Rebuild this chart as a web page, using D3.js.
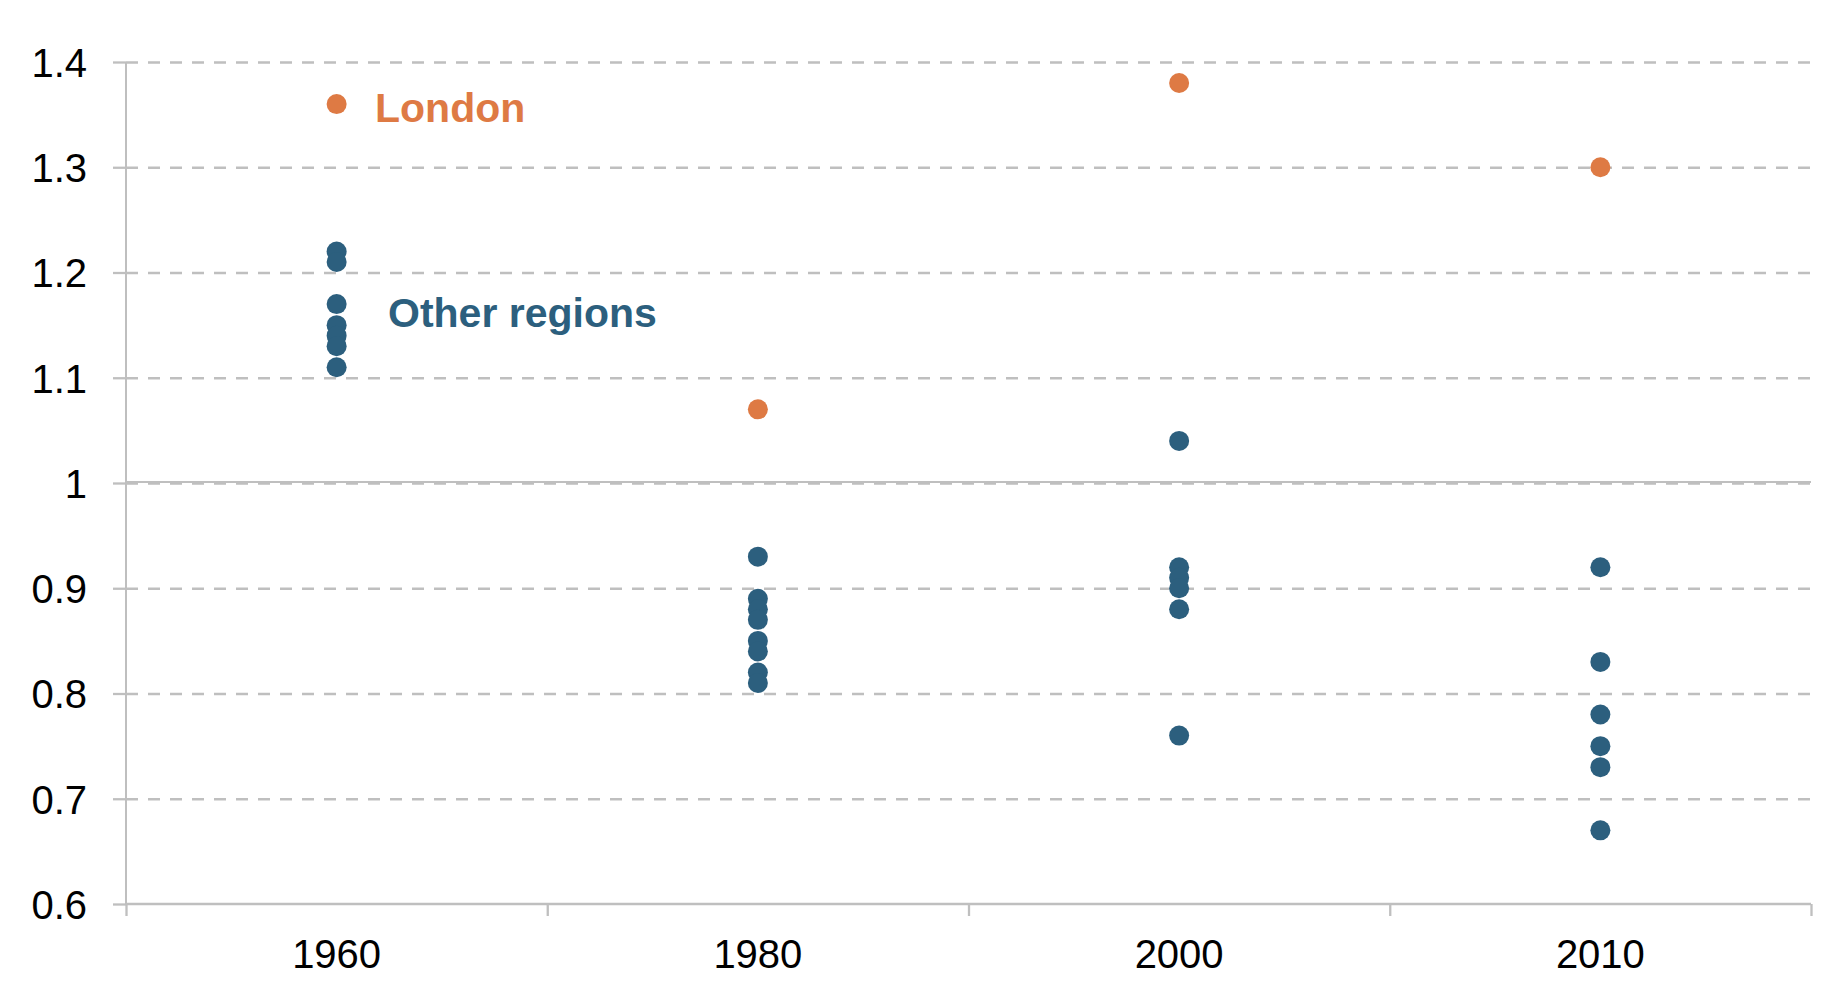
<!DOCTYPE html>
<html>
<head>
<meta charset="utf-8">
<script src="https://cdn.jsdelivr.net/npm/d3@7/dist/d3.min.js"></script>
<style>
  html, body { margin: 0; padding: 0; background: #ffffff; }
  svg { display: block; }
  text { font-family: "Liberation Sans", Arial, Helvetica, sans-serif; }
</style>
</head>
<body>
<script>
// ---- Data ----
const categories = ["1960", "1980", "2000", "2010"];
const londonValues = [1.36, 1.07, 1.38, 1.30];
const others1960 = [1.22, 1.21, 1.17, 1.15, 1.14, 1.13, 1.11];
const others1980 = [0.93, 0.89, 0.88, 0.87, 0.85, 0.84, 0.82, 0.81];
const others2000 = [1.04, 0.92, 0.91, 0.90, 0.88, 0.76];
const others2010 = [0.92, 0.83, 0.78, 0.75, 0.73, 0.67];
const otherSeries = [others1960, others1980, others2000, others2010];
const yTicks = [0.6, 0.7, 0.8, 0.9, 1.0, 1.1, 1.2, 1.3, 1.4];
const yTickLabels = ["0.6", "0.7", "0.8", "0.9", "1", "1.1", "1.2", "1.3", "1.4"];
const labelLondon = "London";
const labelOthers = "Other regions";

// ---- Layout ----
const W = 1834, H = 986;
const mLeft = 126, mRight = 1811, mTop = 62, mBottom = 904;
const orange = "#DE7A44";
const blue = "#2C5F7E";
const gridColor = "#BFBFBF";

const svg = d3.select("body").append("svg").attr("width", W).attr("height", H);

const x = d3.scaleBand().domain(categories).range([mLeft, mRight]).padding(0);
const xEdge = d3.scaleLinear().domain([0, categories.length]).range([mLeft, mRight]);
const y = d3.scaleLinear().domain([0.6, 1.4]).range([mBottom, mTop]);

// Gridlines (dashed)
const gridAxis = d3.axisLeft(y).tickValues(yTicks).tickSize(-(mRight - mLeft)).tickFormat("");
const grid = svg.append("g").attr("transform", `translate(${mLeft},0)`).call(gridAxis);
grid.select(".domain").remove();
grid.selectAll(".tick line")
  .attr("stroke", gridColor).attr("stroke-width", 2.3).attr("stroke-dasharray", "12,10");
grid.selectAll(".tick").filter(d => d === 0.6).remove();

// Solid line at 1.0
svg.append("line")
  .attr("x1", mLeft).attr("x2", mRight)
  .attr("y1", y(1.0) - 1).attr("y2", y(1.0) - 1)
  .attr("stroke", gridColor).attr("stroke-width", 2);

// Y axis with short outer ticks and labels
const yAxis = d3.axisLeft(y).tickValues(yTicks)
  .tickFormat((d, i) => yTickLabels[i]).tickSize(13).tickPadding(26);
const gy = svg.append("g").attr("transform", `translate(${mLeft},0)`).call(yAxis);
gy.select(".domain").attr("stroke", gridColor).attr("stroke-width", 2)
  .attr("d", `M0,${mTop}V${mBottom}`);
gy.selectAll(".tick line").attr("stroke", gridColor).attr("stroke-width", 2.3);
gy.selectAll(".tick text").attr("fill", "#000").style("font-size", "40px").attr("dy", "0.36em");

// X axis: boundary ticks
const xAxis = d3.axisBottom(xEdge).tickValues(d3.range(categories.length + 1))
  .tickFormat("").tickSize(12);
const gx = svg.append("g").attr("transform", `translate(0,${mBottom})`).call(xAxis);
gx.select(".domain").attr("stroke", gridColor).attr("stroke-width", 2.3)
  .attr("d", `M${mLeft},0H${mRight}`);
gx.selectAll(".tick line").attr("stroke", gridColor).attr("stroke-width", 2.3);

// X category labels
svg.append("g").selectAll("text").data(categories).join("text")
  .attr("x", d => x(d) + x.bandwidth() / 2)
  .attr("y", 968)
  .attr("text-anchor", "middle")
  .style("font-size", "40px")
  .attr("fill", "#000")
  .text(d => d);

// Other regions dots
const otherPts = [];
otherSeries.forEach((arr, i) => arr.forEach(v => otherPts.push({ c: categories[i], v })));
svg.append("g").selectAll("circle").data(otherPts).join("circle")
  .attr("cx", d => x(d.c) + x.bandwidth() / 2)
  .attr("cy", d => y(d.v))
  .attr("r", 10)
  .attr("fill", blue);

// London dots
svg.append("g").selectAll("circle").data(londonValues).join("circle")
  .attr("cx", (d, i) => x(categories[i]) + x.bandwidth() / 2)
  .attr("cy", d => y(d))
  .attr("r", 10)
  .attr("fill", orange);

// Annotations
svg.append("text").attr("x", 375).attr("y", 122)
  .style("font-size", "41px").style("font-weight", "bold")
  .attr("fill", orange).text(labelLondon);
svg.append("text").attr("x", 388).attr("y", 327)
  .style("font-size", "41px").style("font-weight", "bold")
  .attr("fill", blue).text(labelOthers);
</script>
</body>
</html>
